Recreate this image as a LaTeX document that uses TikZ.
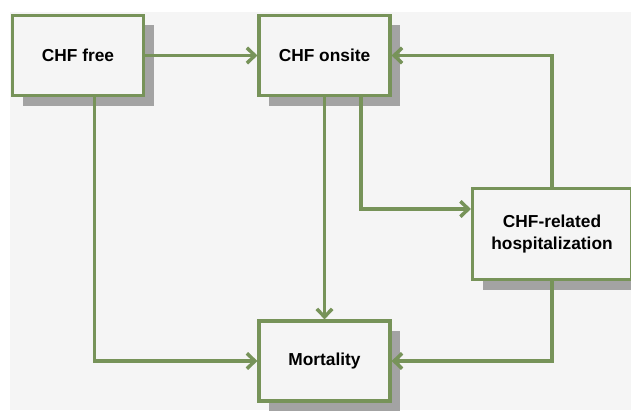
\documentclass[tikz,border=0pt]{standalone}
\usepackage{fontspec}
\setmainfont{Liberation Sans}
\usetikzlibrary{arrows.meta,shadows}
\definecolor{olivegrn}{RGB}{119,147,89}
\definecolor{bggray}{RGB}{245,245,245}
\definecolor{shadowgray}{RGB}{163,163,163}
\begin{document}
\begin{tikzpicture}[x=0.75pt,y=-0.75pt,
  state/.style={draw=olivegrn,line width=2.4pt,fill=bggray,
    minimum width=98.25pt,minimum height=60pt,inner sep=0pt,align=center,
    font=\fontsize{13}{16.5}\selectfont\bfseries,
    drop shadow={shadow xshift=7.5pt,shadow yshift=-7.5pt,fill=shadowgray,opacity=1}},
  flow/.style={draw=olivegrn,line width=2.6pt,-{Straight Barb[length=6pt,width=11.5pt]}}]
  \useasboundingbox (0,0) rectangle (631,410);
  \fill[bggray] (10,12) rectangle (631,410);
  \node[state] (free) at (78,55.5) {CHF free};
  \node[state] (onsite) at (324.5,55.5) {CHF onsite};
  \node[state,minimum width=119.25pt,minimum height=68.25pt] (hosp) at (552,234) {CHF-related\\hospitalization};
  \node[state] (mort) at (324.5,361) {Mortality};
  \draw[flow] (free) -- (onsite);
  \draw[flow] (hosp.north) |- (onsite.east);
  \draw[flow] (onsite.south) -- (mort.north);
  \draw[flow] ([xshift=27.5pt]onsite.south) |- ([yshift=18.75pt]hosp.west);
  \draw[flow] ([xshift=12.5pt]free.south) |- (mort.west);
  \draw[flow] (hosp.south) |- (mort.east);
\end{tikzpicture}
\end{document}
